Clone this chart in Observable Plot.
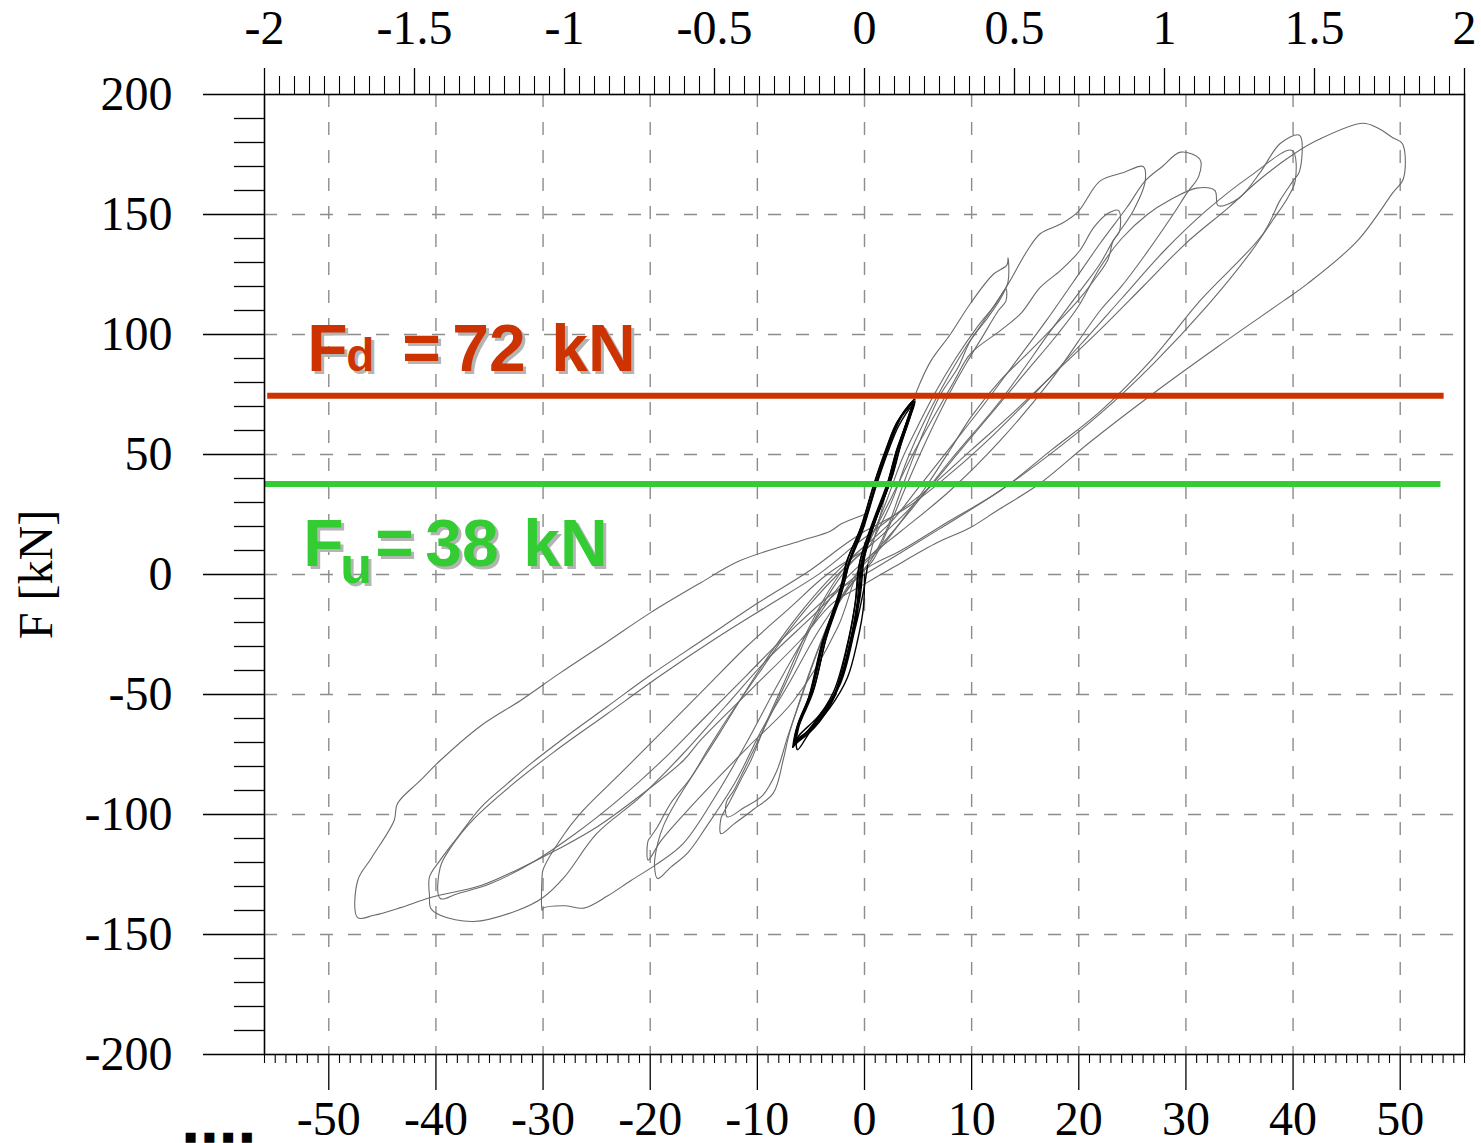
<!DOCTYPE html>
<html><head><meta charset="utf-8">
<script src="https://cdn.jsdelivr.net/npm/d3@7"></script>
<script src="https://cdn.jsdelivr.net/npm/@observablehq/plot@0.6"></script>
<style>
body{margin:0;background:#fff}
g[fill="#cc3300"] text, g[fill="#33cc33"] text { text-shadow: 3px 3px 0 #b4b4b4; }
</style>
</head><body><div id="chart"></div>
<script>
// ---- axis ticks ----
const xMajorTicks = [-50,-40,-30,-20,-10,0,10,20,30,40,50];
const yMajorTicks = [-200,-150,-100,-50,0,50,100,150,200];
const yGridTicks = [-150,-100,-50,0,50,100,150];
const topTicks = [-2,-1.5,-1,-0.5,0,0.5,1,1.5,2];
const mmPerTopUnit = 28;

// ---- design force levels ----
const designLines = [
  {name: "Fd", f: 74.5, d0: -55.7, d1: 54.1},
  {name: "Fu", f: 37.7, d0: -56, d1: 53.8}
];

// ---- hysteresis cycles [displacement mm, force kN] ----
const black1 = [[0,0],[-0.1,-13.7],[-0.65,-27.5],[-1.6,-43],[-3.2,-55.4],[-5.0,-65],[-6.25,-73],[-6.3,-69],[-4.8,-63.7],[-2.7,-49.6],[-1.3,-27.5],[-0.6,-10.8],[-0.2,5.8],[0.8,20],[2.4,39],[3.1,51.7],[4.1,64],[4.6,72],[3.1,64],[2.0,51.7],[1.0,39],[-0.3,20],[-1.6,5.8],[-2.0,-2.5],[-2.5,-10.8],[-3.8,-27.5],[-5.0,-49.6],[-6.25,-63.7],[-6.6,-71]];
const black2 = [[-6.6,-71],[-4.9,-63],[-2.9,-49],[-1.5,-27],[-0.8,-10],[-0.4,6],[0.7,21],[2.2,39],[3.0,52],[4.0,64],[4.5,71],[3.0,63],[1.9,51],[0.9,38],[-0.4,19],[-1.7,5],[-2.1,-3],[-2.6,-11],[-3.9,-28],[-5.1,-50],[-6.3,-64],[-6.5,-70]];
const black3 = [[-6.5,-70],[-4.6,-62],[-2.6,-48],[-1.2,-26],[-0.5,-10],[-0.1,6],[0.9,21],[2.5,40],[3.3,53],[4.2,65],[4.7,73],[3.3,65],[2.2,53],[1.2,40],[-0.1,21],[-1.4,6],[-1.8,-2],[-2.3,-10],[-3.6,-27],[-4.8,-49],[-6.1,-63],[-6.4,-70]];
const black4 = [[-6.4,-70],[-4.7,-64],[-2.8,-51],[-1.4,-29],[-0.7,-12],[-0.3,5],[0.7,19],[2.3,38],[3.0,51],[3.9,63],[4.5,72],[3.4,66],[2.3,54],[1.3,41],[0.0,22],[-1.3,7],[-1.9,-1],[-2.4,-9],[-3.7,-26],[-4.9,-48],[-6.2,-62],[-6.6,-71]];
const black5 = [[-6.6,-71],[-5.0,-65],[-3.0,-52],[-1.6,-30],[-0.9,-13],[-0.5,4],[0.5,18],[2.1,37],[2.9,50],[3.8,62],[4.4,70],[3.2,62],[2.1,50],[1.1,37],[-0.2,18],[-1.5,4],[-2.1,-4],[-2.7,-12],[-4.0,-29],[-5.2,-51],[-6.4,-65],[-6.7,-72]];
const black6 = [[-6.7,-72],[-4.5,-61],[-2.5,-47],[-1.1,-25],[-0.4,-9],[0.0,7],[1.0,22],[2.6,41],[3.4,54],[4.3,66],[4.7,72],[3.5,66],[2.4,55],[1.4,42],[0.1,23],[-1.2,8],[-1.7,0],[-2.2,-8],[-3.5,-25],[-4.7,-47],[-6.0,-61],[-6.5,-70],[-6.1,-67],[-4.3,-59],[-2.3,-46],[-0.9,-23],[-0.1,-7],[0.3,4]];

const c13a = [[0.3,4],[0.5,8],[1.5,25],[2.6,45],[3.8,62],[4.9,76.7],[6.2,89],[8.0,100],[9.9,113],[12.0,125],[13.3,129],[13.4,132],[13.4,122],[12.7,115],[11.5,107],[9.9,97.5],[8.7,86],[7.1,75],[5.2,56],[3.4,35],[2.0,18],[0.6,6],[-0.8,-1.7],[-2.5,-12],[-4.2,-30],[-5.8,-50],[-7.0,-66],[-7.6,-77.5],[-8.5,-91],[-10.4,-98],[-12.2,-104],[-13.4,-108],[-13.4,-101.7],[-13.2,-99.6],[-12.5,-94],[-11.6,-86],[-10.6,-77.5],[-9.2,-62],[-7.5,-45],[-5.5,-25],[-3.5,-8],[-1.5,5],[0.5,14]];
const c13b = [[0.5,14],[2.0,30],[3.5,48],[5.0,62],[6.5,75],[8.5,90],[10.5,103],[12.3,113],[13.2,119],[13.2,114],[12.5,110],[11.0,99],[9.5,88],[8.0,76],[6.0,58],[4.0,38],[2.3,20],[0.8,6],[-1.0,-3],[-2.8,-15],[-4.5,-33],[-6.0,-52],[-7.2,-68],[-8.2,-82],[-9.5,-92],[-11.2,-97],[-12.8,-101],[-12.9,-95],[-12.2,-90],[-11.2,-81],[-10.0,-70],[-8.5,-56],[-6.8,-40],[-5.0,-22],[-3.0,-6],[-1.0,6],[0.5,12]];
const c20a = [[0.5,12],[2.5,30],[4.0,48],[5.5,63],[7.5,80],[9.5,95],[11.5,108],[13.4,121],[15.2,135],[16.4,142],[18.3,146],[19.9,151],[22.0,164],[24.2,167.5],[26.0,170],[26.2,164],[25.1,151.7],[23.2,139],[22.0,129.6],[20.1,118],[17.4,101.7],[12.7,72.5],[8.0,47.5],[4.3,26.7],[1.5,12],[-0.4,3],[-2.5,-22],[-6.6,-52.5],[-10.9,-72],[-15.0,-91],[-19.0,-111],[-20.2,-119],[-20.2,-111],[-20.0,-109.6],[-19.3,-105],[-18.1,-95.4],[-16.2,-84.6],[-14.5,-72],[-12.5,-58],[-10.0,-42],[-7.5,-26],[-5.0,-12],[-2.5,0],[0.0,10]];
const c20b = [[0.0,10],[2.5,32],[4.5,50],[6.5,66],[8.3,80],[9.9,92],[12.7,101.7],[14.6,108.8],[16.4,119.6],[18.3,126.7],[20.1,135],[21.4,144.6],[22.7,150.4],[23.7,151.7],[23.8,143],[23.2,139],[22.7,131],[21.4,122.5],[19.9,114],[17.6,103],[15.2,92],[12.7,81],[10.0,66],[8.0,52],[5.5,35],[3.4,22],[1.5,11],[-0.3,3],[-2.0,-8],[-4.5,-25],[-7.0,-45],[-9.5,-64],[-12.0,-86],[-14.6,-104],[-16.5,-116],[-18.1,-122],[-19.3,-126.7],[-19.6,-121],[-19.3,-112],[-18.7,-104],[-17.5,-94],[-15.8,-82],[-13.5,-66],[-11.0,-48],[-8.5,-31],[-6.0,-16],[-3.5,-3],[-1.0,8]];
const c30 = [[-1.0,8],[2.5,22],[5.0,36],[8.0,53],[11.0,70],[14.0,88],[17.0,106],[19.5,122],[22.0,138],[24.5,153],[26.2,164],[27.8,170],[29.5,176],[31.3,173],[31.2,166],[30.1,159],[28.8,150],[26.0,132],[23.9,119.6],[22.0,110],[17.4,81],[12.7,56],[8.0,35],[3.4,18],[0.6,8],[-2.0,-3],[-5.0,-22],[-8.0,-45],[-11.0,-70],[-14.0,-93],[-16.9,-112],[-19.5,-121],[-21.8,-127.5],[-24.0,-134],[-26.2,-139],[-28.0,-138],[-30.0,-139],[-30.1,-140],[-30.1,-126.7],[-30.0,-123],[-28.0,-108],[-26.2,-98],[-22.8,-83],[-19.0,-66],[-15.0,-48],[-11.0,-30],[-7.0,-14],[-3.5,0],[0.0,10]];
const c40a = [[0.0,10],[3.0,22],[6.0,36],[9.0,52],[12.0,68],[15.0,84],[18.0,100],[20.0,112],[22.0,128],[24.0,140],[26.4,150],[28.5,156],[31.0,161],[32.7,160],[33.0,153.7],[35.0,157],[37.0,168],[38.8,179.6],[40.6,183],[40.6,168],[40.0,164],[38.8,156],[37.2,142],[31.3,114],[26.7,89],[22.0,68],[17.4,51.7],[12.7,35],[8.0,22.5],[3.4,10],[0.6,3.7],[-2.0,-5],[-5.0,-18],[-9.0,-35],[-13.0,-55],[-17.0,-75],[-21.0,-93],[-25.0,-108],[-28.0,-126],[-30.0,-134.6],[-32.4,-140],[-36.5,-144.6],[-39.6,-142],[-40.5,-139],[-40.6,-134],[-40.6,-126],[-39.6,-119],[-38.0,-109.6],[-35.8,-97],[-33.3,-87],[-31.2,-79],[-28.0,-68],[-24.0,-55],[-20.0,-42],[-15.0,-27],[-10.0,-12],[-5.0,2],[-2.0,12],[0.0,18]];
const c40b = [[0.0,18],[4.0,28],[8.0,42],[12.0,58],[16.0,76],[20.0,95],[24.0,115],[28.0,135],[32.0,152],[36.0,166],[39.9,176.7],[40.2,164],[39.5,157],[38.0,147],[36.0,134],[32.0,112],[27.0,88],[22.0,67],[17.0,49],[12.0,33],[7.0,19],[3.0,8],[0.0,0],[-3.0,-8],[-7.0,-24],[-11.0,-42],[-15.0,-60],[-19.0,-78],[-23.0,-94],[-27.0,-108],[-31.0,-120],[-35.0,-129],[-38.0,-133],[-39.6,-135],[-39.6,-122],[-38.5,-113],[-36.5,-102],[-33.0,-88],[-29.0,-74],[-24.0,-58],[-19.0,-42],[-14.0,-27],[-9.0,-13],[-4.0,1],[-1.0,12]];
const c50 = [[-1.0,12],[2.0,22],[6.0,36],[10.0,52],[14.0,68],[18.0,85],[22.0,102],[26.0,120],[30.0,138],[34.0,153],[37.0,165],[40.0,175],[42.3,181],[46.5,188],[47.9,186],[49.3,182],[50.2,179.6],[50.3,165],[49.3,159],[46.0,139],[41.3,121],[39.1,114],[33.0,95],[26.7,74.6],[21.0,55],[16.4,38],[12.5,27],[9.9,19.6],[6.8,13.3],[2.7,3],[0.0,-4],[-3.0,-12],[-6.0,-27.5],[-10.6,-48],[-15.3,-69],[-16.9,-77.5],[-20.9,-92],[-24.9,-105],[-28.4,-114],[-32.4,-123],[-35.8,-129.6],[-40.5,-134.6],[-43.3,-138.8],[-45.8,-142],[-47.3,-143],[-47.3,-127.5],[-46.0,-118],[-43.9,-102.5],[-43.6,-95.5],[-41.5,-86],[-39.6,-77.5],[-35.8,-63],[-32.1,-52.5],[-28.4,-41],[-24.0,-28],[-20.0,-16],[-15.5,-4],[-11.6,5.8],[-6.0,14],[-3.2,18],[-2.2,21],[0.0,25]];

// ---- annotation anchors ----
const fdLabel = {d: -52, f: 85};
const fuLabel = {d: -52, f: 3.75};

const grayCycles = {c13a, c13b, c20a, c20b, c30, c40a, c40b, c50};
const blackCycles = {black1, black2, black3, black4, black5, black6};
function toRows(obj) {
  const rows = [];
  for (const [name, pts] of Object.entries(obj)) pts.forEach(([d, f]) => rows.push({cycle: name, d, f}));
  return rows;
}
const grayRows = toRows(grayCycles);
const blackRows = toRows(blackCycles);

const serif = "'Liberation Serif', 'Times New Roman', serif";
const sans = "'Liberation Sans', Arial, sans-serif";
const red = "#cc3300", green = "#33cc33";

const xMinor = d3.range(-56, 57, 1).filter(v => v % 10 !== 0);
const yMinor = d3.range(-190, 200, 10).filter(v => v % 50 !== 0);
const topMinor = d3.range(-40, 41, 1).filter(k => k % 10 !== 0).map(k => k * 0.05 * mmPerTopUnit);
const fmt = v => String(+v.toFixed(2));

function label(anchor, text, dx, dy, size, color) {
  return Plot.text([anchor], {x: "d", y: "f", text: () => text, dx, dy, fontSize: size, fontWeight: "bold",
    fontFamily: sans, fill: color, textAnchor: "start", lineAnchor: "bottom"});
}

const chart = Plot.plot({
  width: 1481, height: 1143,
  marginLeft: 264, marginRight: 17, marginTop: 94, marginBottom: 89,
  x: {domain: [-56, 56]},
  y: {domain: [-200, 200]},
  style: {fontFamily: serif, fontSize: "48px", background: "#fff", color: "#000", overflow: "visible"},
  marks: [
    Plot.gridX(xMajorTicks, {stroke: "#8c8c8c", strokeOpacity: 1, strokeWidth: 1.4, strokeDasharray: "13,15"}),
    Plot.gridY(yGridTicks, {stroke: "#8c8c8c", strokeOpacity: 1, strokeWidth: 1.4, strokeDasharray: "13,15"}),
    Plot.line(grayRows, {x: "d", y: "f", z: "cycle", stroke: "#6a6a6a", strokeWidth: 1.1, curve: "catmull-rom"}),
    Plot.line(blackRows, {x: "d", y: "f", z: "cycle", stroke: "#000", strokeWidth: 1.4, curve: "catmull-rom"}),
    Plot.ruleY(designLines.slice(0, 1), {y: "f", x1: "d0", x2: "d1", stroke: red, strokeWidth: 6}),
    Plot.ruleY(designLines.slice(1), {y: "f", x1: "d0", x2: "d1", stroke: green, strokeWidth: 6}),
    Plot.frame({stroke: "#000", strokeWidth: 1.6}),
    // bottom axis
    Plot.axisX(xMajorTicks, {anchor: "bottom", tickSize: 36, tickPadding: 10, tickFormat: fmt, label: null, strokeWidth: 1.3}),
    Plot.axisX(xMinor, {anchor: "bottom", tickSize: 9, tickFormat: () => "", label: null, strokeWidth: 1.1}),
    // top axis (drift scale)
    Plot.axisX(topTicks.map(t => t * mmPerTopUnit), {anchor: "top", tickSize: 27, tickPadding: 24, tickFormat: v => fmt(v / mmPerTopUnit), label: null, strokeWidth: 1.3}),
    Plot.axisX(topMinor, {anchor: "top", tickSize: 19, tickFormat: () => "", label: null, strokeWidth: 1.1}),
    // left axis
    Plot.axisY(yMajorTicks, {anchor: "left", tickSize: 61, tickPadding: 31, tickFormat: fmt, label: null, strokeWidth: 1.4}),
    Plot.axisY(yMinor, {anchor: "left", tickSize: 30, tickFormat: () => "", label: null, strokeWidth: 1.3}),
    Plot.text(["F [kN]"], {frameAnchor: "left", dx: -228, rotate: -90, textAnchor: "middle", fontSize: 48, fontFamily: serif, fill: "#000"}),
    Plot.text(["\u25A0\u2002\u25A0\u2002\u25A0\u2002\u25A0"], {frameAnchor: "bottom-left", dx: -80, dy: 86, textAnchor: "start", fontSize: 13, fontFamily: "DejaVu Sans", fill: "#000"}),
    // annotations
    label(fdLabel, "F", 0, 0, 66, red),
    label(fdLabel, "d", 39, 0, 46, red),
    label(fdLabel, "=", 95, 0, 66, red),
    label(fdLabel, "72", 145, 0, 66, red),
    label(fdLabel, "kN", 244, 0, 66, red),
    label(fuLabel, "F", -4, 0, 66, green),
    label(fuLabel, "u", 33, 17, 52, green),
    label(fuLabel, "=", 68, 0, 66, green),
    label(fuLabel, "38", 118, 0, 66, green),
    label(fuLabel, "kN", 216, 0, 66, green)
  ]
});
document.getElementById("chart").appendChild(chart);
</script>
</body></html>
